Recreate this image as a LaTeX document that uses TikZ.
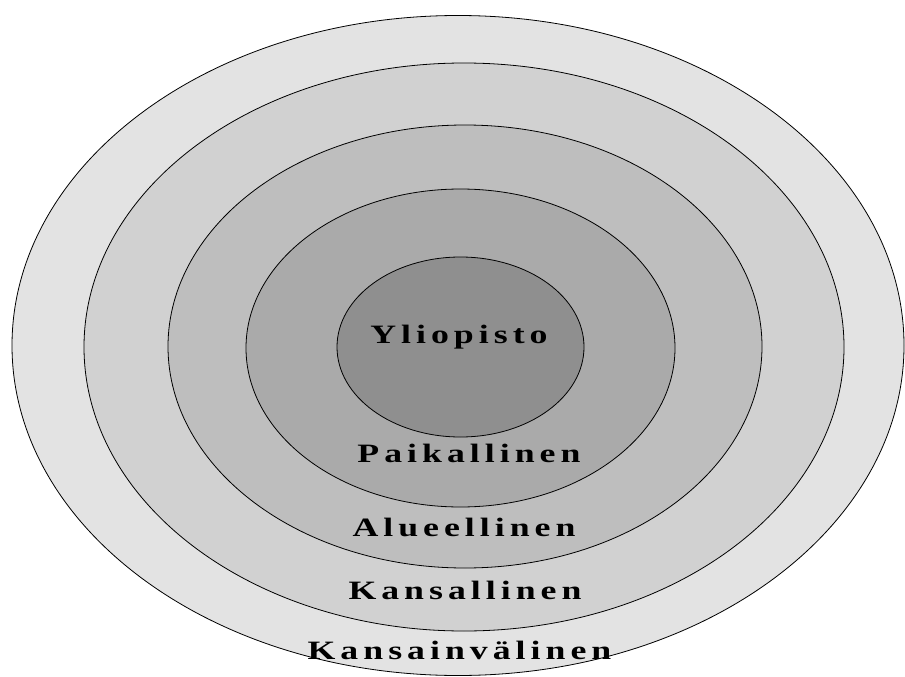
\documentclass[tikz,border=0pt]{standalone}
\usepackage{graphicx}
\usepackage{fontspec}
\setmainfont{Liberation Serif}
\newfontfamily\labelfont[LetterSpace=14]{Liberation Serif}
\newcommand{\widetext}[1]{\scalebox{1.35}[1]{#1}}
\definecolor{ringA}{HTML}{E3E3E3}
\definecolor{ringB}{HTML}{D1D1D1}
\definecolor{ringC}{HTML}{BEBEBE}
\definecolor{ringD}{HTML}{AAAAAA}
\definecolor{ringE}{HTML}{8F8F8F}
\begin{document}
\begin{tikzpicture}[x=1pt,y=-1pt,
  ring/.style={draw=black,line width=0.8pt},
  lbl/.style={font=\labelfont\bfseries\fontsize{26.5}{30}\selectfont,text=black,inner sep=0pt}]
\useasboundingbox[fill=white] (0,0) rectangle (905,677);
\draw[ring,fill=ringA] (458,345.5) ellipse [x radius=446pt,y radius=330pt];
\draw[ring,fill=ringB] (464,347) ellipse [x radius=380pt,y radius=284pt];
\draw[ring,fill=ringC] (465,346.5) ellipse [x radius=297pt,y radius=221.5pt];
\draw[ring,fill=ringD] (460.5,348) ellipse [x radius=214.5pt,y radius=159pt];
\draw[ring,fill=ringE] (460.5,347) ellipse [x radius=123.5pt,y radius=90pt];
\node[lbl] (yliopisto) at (459,337) {\widetext{Yliopisto}};
\node[lbl] (paikallinen) at (469,453) {\widetext{Paikallinen}};
\node[lbl] (alueellinen) at (464,527) {\widetext{Alueellinen}};
\node[lbl] (kansallinen) at (465,590) {\widetext{Kansallinen}};
\node[lbl] (kansainvalinen) at (459.5,650) {\widetext{Kansainvälinen}};
\end{tikzpicture}
\end{document}
